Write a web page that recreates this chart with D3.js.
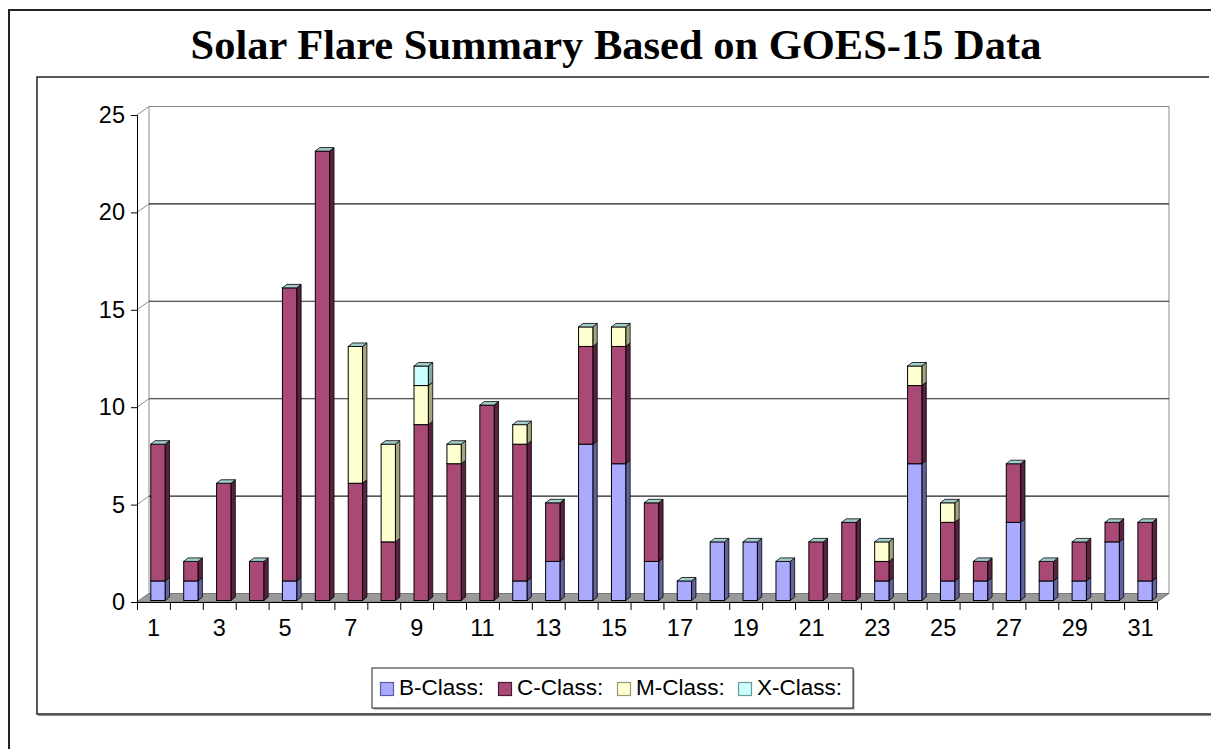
<!DOCTYPE html>
<html>
<head>
<meta charset="utf-8">
<script src="https://cdn.jsdelivr.net/npm/d3@7"></script>
<style>
  html, body { margin: 0; padding: 0; background: #fff; }
  svg { display: block; }
</style>
</head>
<body>
<svg id="chart" width="1211" height="749"></svg>
<script>
// ---- Data ----
const days   = d3.range(1, 32);
const bClass = [1,1,0,0,1,0,0,0,0,0,0,1,2,8,7,2,1,3,3,2,0,0,1,7,1,1,4,1,1,3,1];
const cClass = [7,1,6,2,15,23,6,3,9,7,10,7,3,5,6,3,0,0,0,0,3,4,1,4,3,1,3,1,2,1,3];
const mClass = [0,0,0,0,0,0,7,5,2,1,0,1,0,1,1,0,0,0,0,0,0,0,1,1,1,0,0,0,0,0,0];
const xClass = [0,0,0,0,0,0,0,0,1,0,0,0,0,0,0,0,0,0,0,0,0,0,0,0,0,0,0,0,0,0,0];
const seriesNames = ["B-Class:", "C-Class:", "M-Class:", "X-Class:"];
const yTicks = [0, 5, 10, 15, 20, 25];
const xLabels = days.map(d => d % 2 === 1 ? String(d) : "");

const frontColors = ["#aaaaff", "#a94a76", "#ffffd0", "#ccffff"];
const sideColors  = ["#62629e", "#5a2141", "#a4a47e", "#82a8a8"];
const topColor    = "#a3cccc";

const svg = d3.select("#chart");

// ---- Geometry ----
const x0 = 137, x1 = 1157;         // front floor edge
const depthX = 12, depthY = -8.5;  // wall depth offset
const yFront = d3.scaleLinear().domain([0, 25]).range([602, 115]);
const yBack  = d3.scaleLinear().domain([0, 25]).range([602 + depthY, 115 + depthY]);
const yBar   = d3.scaleLinear().domain([0, 25]).range([600.5, 112]);
const xBand  = d3.scaleBand().domain(days).range([x0, x1]).padding(0);
const xEdge  = d3.scaleLinear().domain([0, 31]).range([x0, x1]);

// ---- Frames ----
svg.append("path").attr("d", "M9,749 L9,10 L1211,10")
  .attr("fill", "none").attr("stroke", "#222").attr("stroke-width", 2);
svg.append("path").attr("d", "M1209,77 L37,77 L37,714 L1211,714")
  .attr("fill", "none").attr("stroke", "#222").attr("stroke-width", 1.5);
svg.append("line").attr("x1", 38).attr("x2", 1211).attr("y1", 715.5).attr("y2", 715.5)
  .attr("stroke", "#888").attr("stroke-width", 1);

// ---- Title ----
svg.append("text")
  .attr("x", 616).attr("y", 59)
  .attr("text-anchor", "middle")
  .attr("font-family", "'Liberation Serif', 'Times New Roman', serif")
  .attr("font-weight", "bold")
  .attr("font-size", 42.5)
  .text("Solar Flare Summary Based on GOES-15 Data");

// ---- Walls ----
const bx0 = x0 + depthX, bx1 = x1 + depthX;
svg.append("rect")
  .attr("x", bx0).attr("y", yBack(25))
  .attr("width", bx1 - bx0).attr("height", yBack(0) - yBack(25))
  .attr("fill", "#fff").attr("stroke", "#8c8c8c").attr("stroke-width", 1);

// gridlines on back wall
svg.append("g").selectAll("line").data(yTicks.filter(t => t > 0 && t < 25)).join("line")
  .attr("x1", bx0).attr("x2", bx1)
  .attr("y1", d => yBack(d)).attr("y2", d => yBack(d))
  .attr("stroke", "#222").attr("stroke-width", 1.1);

// side-wall diagonals
svg.append("g").selectAll("line").data(yTicks).join("line")
  .attr("x1", x0).attr("y1", d => yFront(d))
  .attr("x2", bx0).attr("y2", d => yBack(d))
  .attr("stroke", "#8c8c8c").attr("stroke-width", 1);

// floor
svg.append("path")
  .attr("d", `M${x0},${yFront(0)} L${x1},${yFront(0)} L${bx1},${yBack(0)} L${bx0},${yBack(0)} Z`)
  .attr("fill", "#9a9a9a").attr("stroke", "#777").attr("stroke-width", 1);

// ---- Axes ----
const yAxis = svg.append("g").attr("transform", `translate(${x0},0)`)
  .call(d3.axisLeft(yFront).tickValues(yTicks).tickSize(6).tickPadding(6).tickFormat(d3.format("d")));
yAxis.select(".domain").attr("stroke", "#000");
yAxis.selectAll(".tick line").attr("stroke", "#000");
yAxis.selectAll("text").attr("font-family", "'Liberation Sans', Arial, sans-serif")
  .attr("font-size", 23.5).attr("fill", "#000");

const xTickAxis = svg.append("g").attr("transform", `translate(0,${yFront(0)})`)
  .call(d3.axisBottom(xEdge).tickValues(d3.range(0, 32)).tickSize(8).tickFormat(""));
xTickAxis.select(".domain").attr("stroke", "#000");
xTickAxis.selectAll(".tick line").attr("stroke", "#000");

const xLabelAxis = svg.append("g").attr("transform", `translate(0,${yFront(0)})`)
  .call(d3.axisBottom(xBand).tickSize(0).tickPadding(17).tickFormat((d, i) => xLabels[i]));
xLabelAxis.select(".domain").remove();
xLabelAxis.selectAll("text").attr("font-family", "'Liberation Sans', Arial, sans-serif")
  .attr("font-size", 23.5).attr("fill", "#000");

// ---- Bars ----
const table = days.map((d, i) => ({ day: d, b: bClass[i], c: cClass[i], m: mClass[i], x: xClass[i] }));
const stack = d3.stack().keys(["b", "c", "m", "x"])(table);
const barW = 14.3, sideDx = 4.4, sideDy = -3.5, barShift = 4.5;
const barsG = svg.append("g");

table.forEach((row, i) => {
  const bxL = xBand(row.day) + xBand.bandwidth() / 2 + barShift - barW / 2;
  const bxR = bxL + barW;
  let topVal = 0;
  stack.forEach((s, k) => {
    const [lo, hi] = s[i];
    if (hi - lo <= 0) return;
    topVal = hi;
    const yT = yBar(hi), yB = yBar(lo);
    // side face
    barsG.append("path")
      .attr("d", `M${bxR},${yB} L${bxR + sideDx},${yB + sideDy} L${bxR + sideDx},${yT + sideDy} L${bxR},${yT} Z`)
      .attr("fill", sideColors[k]).attr("stroke", "#000").attr("stroke-width", 0.8)
      .attr("stroke-linejoin", "round");
    // front face
    barsG.append("rect")
      .attr("x", bxL).attr("y", yT).attr("width", barW).attr("height", yB - yT)
      .attr("fill", frontColors[k]).attr("stroke", "#000").attr("stroke-width", 1);
  });
  if (topVal > 0) {
    const yT = yBar(topVal);
    barsG.append("path")
      .attr("d", `M${bxL},${yT} L${bxL + sideDx},${yT + sideDy} L${bxR + sideDx},${yT + sideDy} L${bxR},${yT} Z`)
      .attr("fill", topColor).attr("stroke", "#000").attr("stroke-width", 0.8)
      .attr("stroke-linejoin", "round");
  }
});

// ---- Legend ----
const lg = svg.append("g");
lg.append("rect").attr("x", 373.5).attr("y", 669.5).attr("width", 481).attr("height", 40)
  .attr("fill", "#999");
lg.append("rect").attr("x", 372).attr("y", 668).attr("width", 481).attr("height", 40)
  .attr("fill", "#fff").attr("stroke", "#222").attr("stroke-width", 1);
const swatchX = [380, 498, 617, 738];
const strokeCols = ["#5c5ca0", "#4a1a34", "#9a9a70", "#6a9a9a"];
seriesNames.forEach((name, k) => {
  lg.append("rect").attr("x", swatchX[k] + 0.5).attr("y", 682.5).attr("width", 13).attr("height", 13)
    .attr("fill", frontColors[k]).attr("stroke", strokeCols[k]).attr("stroke-width", 1.2);
  lg.append("text").attr("x", swatchX[k] + 19).attr("y", 695)
    .attr("font-family", "'Liberation Sans', Arial, sans-serif").attr("font-size", 22.5)
    .attr("fill", "#000").text(name);
});
</script>
</body>
</html>
